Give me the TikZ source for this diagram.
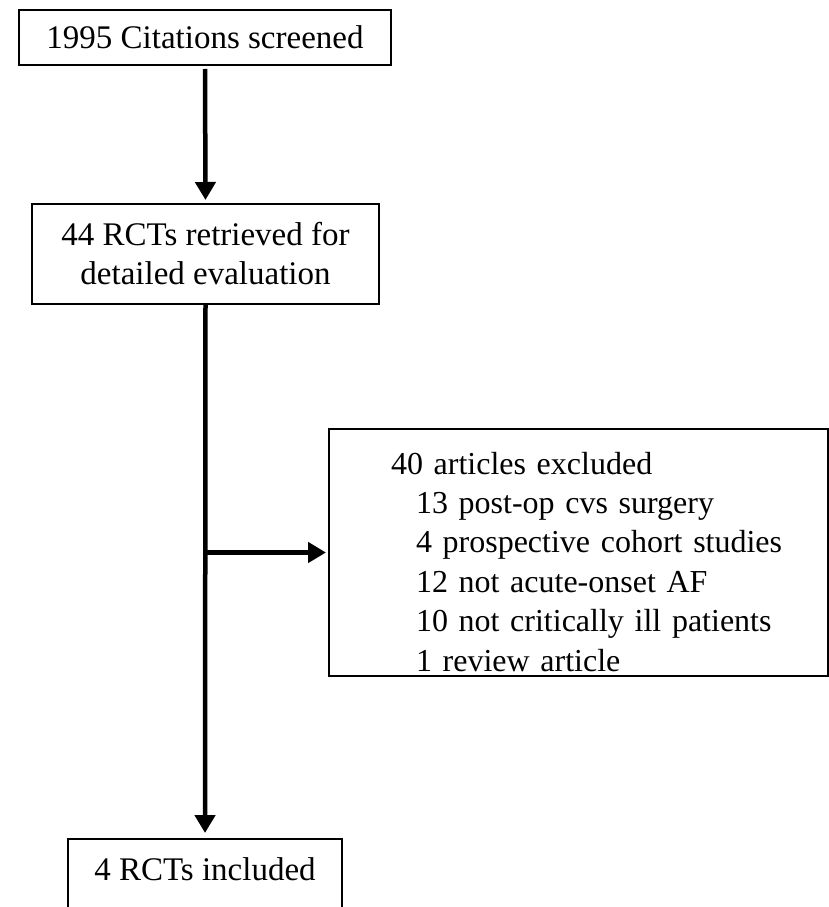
\documentclass[tikz,border=0pt]{standalone}
\usepackage{fontspec}
\setmainfont{Liberation Serif}
\usetikzlibrary{arrows.meta}
\tikzset{
    box/.style={draw=black, line width=2pt, inner sep=0pt, align=center,
                font=\fontsize{33}{39}\selectfont},
    flow/.style={draw=black, line width=4.5pt, -{Triangle[length=18pt,width=20pt]}}
}
\begin{document}
\begin{tikzpicture}[x=1pt, y=-1pt]
    % Definiciones
    \def\headin{\hspace*{62pt}}
    \def\subindent{\hspace*{87pt}}
    \useasboundingbox (0,0) rectangle (829,907);
    % Cajas
    \node[box, minimum width=372pt, minimum height=55pt] (screened) at (205,37.5) {1995 Citations screened};
    \node[box, minimum width=347pt, minimum height=100pt] (retrieved) at (205.5,254) {44 RCTs retrieved for\\detailed evaluation};
    \node[box, anchor=north west, align=left, text width=499pt, inner sep=0pt,
          font=\fontsize{32}{39.4}\selectfont] (excluded) at (328,428)
        {\headin\rule{0pt}{45pt}40 articles excluded\\
         \subindent13 post-op cvs surgery\\
         \subindent4 prospective cohort studies\\
         \subindent12 not acute-onset AF\\
         \subindent10 not critically ill patients\\
         \subindent1 review article\rule[-5pt]{0pt}{5pt}};
    \node[box, anchor=north, minimum width=274pt, text height=22pt, text depth=40pt, inner ysep=19pt] (included) at (205,838) {4 RCTs included};
    % Flechas
    \draw[flow, shorten <=3pt, shorten >=3pt] (screened.south) -- (retrieved.north);
    \draw[flow, shorten >=5pt] (retrieved.south) -- (included.north);
    \coordinate (branch) at (retrieved.south |- excluded.west);
    \draw[flow, shorten >=2pt] (branch) -- (excluded.west);
\end{tikzpicture}
\end{document}
